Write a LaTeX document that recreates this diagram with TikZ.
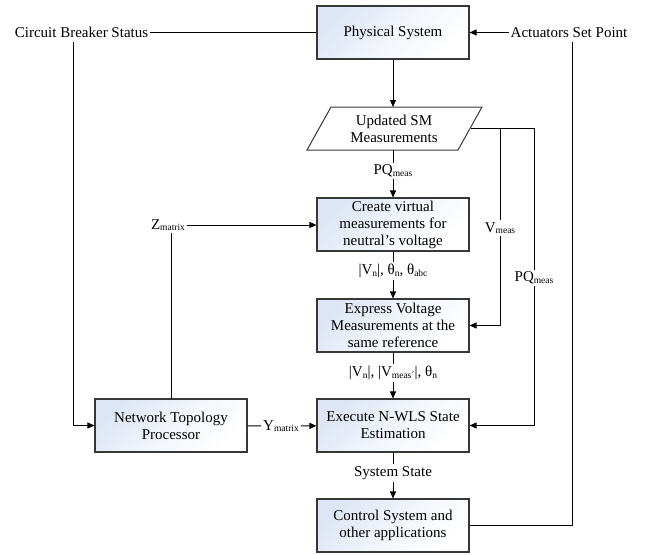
\documentclass[tikz,border=0pt]{standalone}
\usepackage{fontspec}
\setmainfont{Liberation Serif}
\usetikzlibrary{arrows.meta}
\definecolor{boxblue}{RGB}{222,230,245}
\definecolor{boxline}{RGB}{55,55,55}
\newcommand{\sbs}[1]{\raisebox{-1.5pt}{\fontsize{9.5}{10}\selectfont #1}}
\begin{document}
\begin{tikzpicture}[x=1pt,y=-1pt,
  font=\fontsize{15}{17}\selectfont,
  line width=0.9pt,
  box/.style={draw=boxline, line width=1.1pt, minimum width=152pt, minimum height=53pt,
    align=center, inner sep=0pt, left color=boxblue, right color=white, middle color=boxblue!40!white, shading angle=45},
  lab/.style={inner sep=1.5pt},
  arr/.style={-{Triangle[length=7pt,width=6pt]}}]
\useasboundingbox (0,0) rectangle (647,554);

% main column
\node[box] (phys) at (393,32.5) {Physical System};
\coordinate (p1) at (331,107);
\coordinate (p2) at (482,107);
\coordinate (p3) at (458,150);
\coordinate (p4) at (307,150);
\draw[line width=1pt, draw=boxline] (p1) -- (p2) -- (p3) -- (p4) -- cycle;
\node[align=center] (upd) at (394,128.5) {Updated SM\\Measurements};
\coordinate (updtop) at (393,107);
\coordinate (updbot) at (393,150);
\coordinate (updr) at (470.5,128);

\node[box] (cv) at (393,224.5) {Create virtual\\measurements for\\neutral’s voltage};
\node[box] (ex) at (393,325.5) {Express Voltage\\Measurements at the\\same reference};
\node[box] (nwls) at (393,425.5) {Execute N-WLS State\\Estimation};
\node[box] (ctrl) at (393,525.5) {Control System and\\other applications};
\node[box] (ntp) at (171,425.5) {Network Topology\\Processor};

% labels
\node[lab] (cbs) at (81.5,32.5) {Circuit Breaker Status};
\node[lab] (asp) at (569,32.5) {Actuators Set Point};
\node[lab] (pq1) at (393,171) {PQ\sbs{meas}};
\node[lab] (vth) at (393,271) {|V\sbs{n}|, θ\sbs{n}, θ\sbs{abc}};
\node[lab] (vvm) at (393,373) {|V\sbs{n}|, |V\sbs{meas´}|, θ\sbs{n}};
\node[lab] (sst) at (393,473) {System State};
\node[lab] (zm) at (168,225) {Z\sbs{matrix}};
\node[lab] (ym) at (281,426) {Y\sbs{matrix}};
\node[lab] (vm) at (500,228) {V\sbs{meas}};
\node[lab] (pq2) at (534,278) {PQ\sbs{meas}};

\coordinate (vtop) at (500,128);
\coordinate (pqtop) at (534,128);
\coordinate (cbx) at (73,42);
\coordinate (asx) at (572,42);

% connectors
\draw (cbs.east) -- (cbs.east -| phys.west);
\draw[arr] (asp.west) -- (asp.west -| phys.east);
\draw[arr] (phys) -- (updtop);
\draw (updbot) -- (pq1);
\draw[arr] (pq1) -- (cv);
\draw (cv) -- (vth);
\draw[arr] (vth) -- (ex);
\draw (ex) -- (vvm);
\draw[arr] (vvm) -- (nwls);
\draw (nwls) -- (sst);
\draw[arr] (sst) -- (ctrl);

\draw (updr) -- (pqtop);
\draw (vtop) -- (vm);
\draw[arr] (vm) |- (ex.east);
\draw (pqtop) -- (pq2);
\draw[arr] (pq2) |- (nwls.east);

\draw[arr] (cbx) |- (ntp.west);
\draw (ctrl.east) -| (asx);

\draw[arr] (zm.east) -- (zm.east -| cv.west);
\draw (ntp) -- (ntp |- zm.south);
\draw (ntp) -- (ym);
\draw[arr] (ym) -- (nwls);
\end{tikzpicture}
\end{document}
